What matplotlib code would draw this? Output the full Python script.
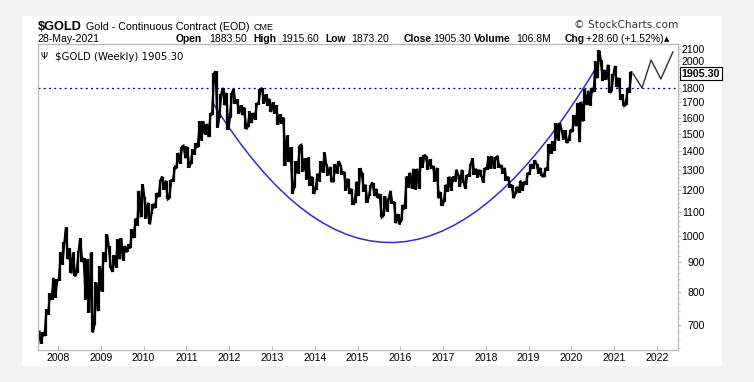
import numpy as np
import matplotlib.pyplot as plt
from matplotlib.patches import Rectangle, PathPatch
from matplotlib.path import Path
from matplotlib.ticker import FixedLocator, NullFormatter, FuncFormatter

plt.rcParams['font.family'] = ['Liberation Sans', 'DejaVu Sans']

W, H = 754, 382

# monthly high / low of the weekly bars, Jul 2007 .. May 2021
first_year, first_month = 2007, 7
hi = [
    685, 680, 745, 795, 845, 840,                                    # 2007
    935, 975, 1033, 950, 935, 940, 990, 915, 910, 935, 830, 885,     # 2008
    935, 1005, 960, 925, 985, 990, 960, 965, 1025, 1070, 1195, 1227, # 2009
    1165, 1140, 1135, 1185, 1250, 1265, 1245, 1250, 1315, 1390, 1425, 1430,  # 2010
    1425, 1410, 1445, 1575, 1577, 1560, 1630, 1912, 1923, 1760, 1800, 1765,  # 2011
    1765, 1793, 1720, 1680, 1665, 1640, 1630, 1695, 1790, 1800, 1755, 1725,  # 2012
    1700, 1680, 1620, 1600, 1490, 1420, 1345, 1430, 1435, 1360, 1365, 1265,  # 2013
    1280, 1345, 1392, 1330, 1315, 1330, 1345, 1325, 1290, 1255, 1205, 1240,  # 2014
    1308, 1285, 1225, 1225, 1235, 1205, 1180, 1170, 1160, 1195, 1145, 1090,  # 2015
    1130, 1265, 1285, 1305, 1305, 1365, 1380, 1370, 1355, 1320, 1310, 1190,  # 2016
    1225, 1265, 1265, 1300, 1275, 1300, 1275, 1330, 1360, 1305, 1300, 1310,  # 2017
    1370, 1370, 1365, 1370, 1325, 1310, 1265, 1225, 1215, 1245, 1240, 1285,  # 2018
    1330, 1350, 1330, 1310, 1310, 1440, 1455, 1565, 1565, 1525, 1520, 1525,  # 2019
    1615, 1695, 1705, 1790, 1780, 1800, 2000, 2090, 2015, 1935, 1975, 1900,  # 2020
    1965, 1875, 1755, 1800, 1916,                                     # 2021
]
lo = [
    645, 650, 670, 730, 775, 780,                                    # 2007
    835, 890, 910, 860, 850, 860, 900, 775, 735, 680, 700, 740,      # 2008
    800, 900, 880, 865, 880, 910, 905, 935, 950, 990, 1040, 1075,    # 2009
    1070, 1045, 1090, 1115, 1165, 1200, 1155, 1160, 1240, 1310, 1330, 1360,  # 2010
    1310, 1330, 1380, 1420, 1460, 1495, 1480, 1615, 1535, 1600, 1680, 1525,  # 2011
    1595, 1690, 1625, 1615, 1527, 1540, 1565, 1585, 1685, 1690, 1675, 1635,  # 2012
    1625, 1555, 1560, 1320, 1340, 1180, 1210, 1280, 1290, 1250, 1220, 1180,  # 2013
    1200, 1240, 1285, 1270, 1240, 1240, 1280, 1275, 1195, 1180, 1130, 1140,  # 2014
    1170, 1190, 1140, 1170, 1170, 1160, 1075, 1080, 1100, 1135, 1050, 1045,  # 2015
    1060, 1110, 1210, 1205, 1200, 1205, 1310, 1300, 1305, 1240, 1160, 1125,  # 2016
    1145, 1190, 1195, 1240, 1215, 1235, 1205, 1265, 1275, 1260, 1265, 1235,  # 2017
    1300, 1305, 1305, 1310, 1280, 1245, 1210, 1160, 1180, 1185, 1195, 1225,  # 2018
    1275, 1305, 1280, 1266, 1265, 1295, 1385, 1400, 1460, 1465, 1445, 1460,  # 2019
    1510, 1545, 1450, 1575, 1680, 1675, 1770, 1870, 1850, 1860, 1765, 1775,  # 2020
    1805, 1715, 1675, 1680, 1765,                                     # 2021
]

# rounded-bottom "cup": start, control, end (year, price)
cup_x = [2011.62, 2015.91, 2020.53]
cup_y = [1695, 525, 1926]

# hand-drawn projection at the right
proj_x = [2021.44, 2021.65, 2021.86, 2022.09, 2022.37]
proj_y = [1905, 1800, 2012, 1865, 2077]

yticks = [700, 800, 900, 1000, 1100, 1200, 1300, 1400, 1500, 1600,
          1700, 1800, 2000, 2100]
years = list(range(2008, 2023))
last_close = 1905.30
support = 1800


def fx(x):
    return x / W


def fy(y):
    return 1 - y / H


fig = plt.figure(figsize=(W / 100, H / 100), dpi=100, facecolor='#f2f2f2')
fig.patches.append(Rectangle((fx(22), fy(366)), fx(722) - fx(22), fy(16) - fy(366),
                             transform=fig.transFigure, facecolor='white',
                             edgecolor='none', zorder=-5))

ax = fig.add_axes([fx(38), fy(350), fx(678) - fx(38), fy(44) - fy(350)], zorder=2)
ax.set_yscale('log')
ax.set_xlim(2007.533, 2022.49)
ax.set_ylim(634, 2144)

# weekly price bars: monthly hi-lo spikes joined by a saw line
t = [first_year + (first_month - 1 + i + 0.5) / 12 for i in range(len(hi))]
mid = [(a + b) / 2 for a, b in zip(hi, lo)]
px, py = [], []
for i in range(len(t)):
    rising = mid[min(i + 1, len(t) - 1)] >= mid[max(i - 1, 0)]
    first, second = (lo[i], hi[i]) if rising else (hi[i], lo[i])
    px += [t[i] - 1 / 40, t[i] + 1 / 40]
    py += [first, second]
ax.plot(px, py, color='black', lw=1.6, solid_joinstyle='miter')
ax.vlines(t, lo, hi, color='black', lw=1.6)

ax.axhline(support, color='#000080', lw=0.9, ls=(0, (1.6, 2.6)))

cup = Path(list(zip(cup_x, cup_y)), [Path.MOVETO, Path.CURVE3, Path.CURVE3])
ax.add_patch(PathPatch(cup, facecolor='none', edgecolor='#2f2fc0', lw=1.1))

ax.plot(proj_x, proj_y, color='#303030', lw=1.0)

# axes styling
for s in ax.spines.values():
    s.set_color('#b8b8b8')
    s.set_linewidth(0.9)
ax.xaxis.set_major_locator(FixedLocator(years))
ax.xaxis.set_major_formatter(FuncFormatter(lambda v, p: '%d' % v))
ax.xaxis.set_minor_locator(FixedLocator([]))
ax.tick_params(axis='x', direction='in', length=3, color='#b8b8b8',
               labelsize=7.6, pad=2)

ax.yaxis.tick_right()
ax.yaxis.set_major_locator(FixedLocator(yticks))
ax.yaxis.set_major_formatter(FuncFormatter(lambda v, p: '%d' % v))
ax.yaxis.set_minor_locator(FixedLocator([v for v in range(640, 2141, 20)
                                         if v % 100 != 0]))
ax.yaxis.set_minor_formatter(NullFormatter())
ax.tick_params(axis='y', which='major', direction='out', length=2.5,
               color='#b8b8b8', labelsize=7.6, pad=16.8)
ax.tick_params(axis='y', which='minor', direction='out', length=1.5,
               color='#c8c8c8')
plt.setp(ax.get_yticklabels(), ha='right')

ax.annotate('%.2f' % last_close, xy=(1, last_close),
            xycoords=('axes fraction', 'data'), xytext=(2.6, 0),
            textcoords='offset points', ha='left', va='center',
            fontsize=7.7, fontweight='bold',
            bbox=dict(boxstyle='square,pad=0.15', fc='white', ec='black', lw=0.8),
            annotation_clip=False)

# header
fig.text(fx(38), fy(29.5), '$GOLD', fontsize=9.2, fontweight='bold', va='baseline')
fig.text(fx(86), fy(29.5), 'Gold - Continuous Contract (EOD)', fontsize=7.7,
         va='baseline')
fig.text(fx(253), fy(29.5), 'CME', fontsize=6.4, va='baseline')
fig.text(fx(678), fy(28.5), '\u00a9 StockCharts.com', fontsize=7.6,
         va='baseline', ha='right', color='#333333', family='DejaVu Sans')

fig.text(fx(38), fy(41.5), '28-May-2021', fontsize=7.6, va='baseline')
row = [(176, 'Open', True), (209, '1883.50', False),
       (253, 'High', True), (281, '1915.60', False),
       (325, 'Low', True), (351, '1873.20', False),
       (404, 'Close', True), (433, '1905.30', False),
       (474, 'Volume', True), (516, '106.8M', False),
       (565, 'Chg', True), (586, '+28.60 (+1.52%)', False)]
for x, s, b in row:
    fig.text(fx(x), fy(41.5), s, fontsize=7.4 if b else 7.5,
             fontweight='bold' if b else 'normal', va='baseline')
fig.text(fx(664), fy(41.5), '\u25b2', fontsize=5, va='baseline', family='DejaVu Sans')

ax.text(0.004, 0.975, '\u03a8', transform=ax.transAxes, fontsize=6.5,
        va='top', ha='left', family='DejaVu Sans')
ax.text(0.027, 0.975, '$GOLD (Weekly) 1905.30', transform=ax.transAxes,
        fontsize=7.3, va='top', ha='left', family='DejaVu Sans')

fig.savefig('out.png', dpi=100, facecolor=fig.get_facecolor())
